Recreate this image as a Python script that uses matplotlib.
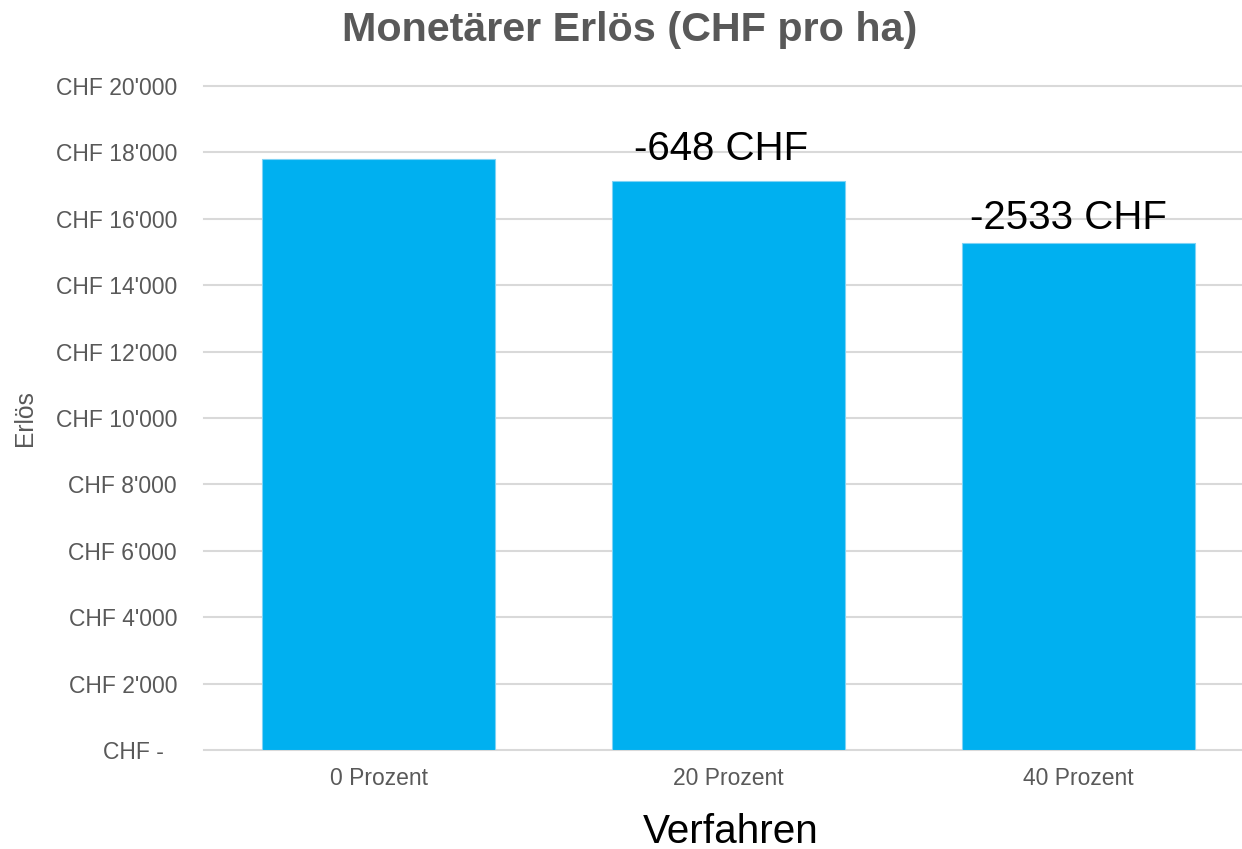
import matplotlib
matplotlib.use("Agg")
import matplotlib.pyplot as plt
from matplotlib.ticker import FixedLocator

plt.rcParams['font.family'] = ['Liberation Sans', 'DejaVu Sans']

categories = ["0 Prozent", "20 Prozent", "40 Prozent"]
values = [17800, 17152, 15267]
diff_labels = [None, "-648 CHF", "-2533 CHF"]
y_ticks = [0, 2000, 4000, 6000, 8000, 10000, 12000, 14000, 16000, 18000, 20000]
y_tick_labels = ["CHF -  ", "CHF 2'000", "CHF 4'000", "CHF 6'000", "CHF 8'000",
                 "CHF 10'000", "CHF 12'000", "CHF 14'000", "CHF 16'000",
                 "CHF 18'000", "CHF 20'000"]
label_offsets_px = [(0, 0), (-7, 21), (-10, 14)]

W, H = 1242, 849
fig = plt.figure(figsize=(W / 100, H / 100), dpi=100)
ax_left, ax_right = 203.5, 1253.5
ax_top, ax_bot = 86, 750
ax = fig.add_axes([ax_left / W, 1 - ax_bot / H, (ax_right - ax_left) / W, (ax_bot - ax_top) / H])

x = list(range(len(categories)))
bars = ax.bar(x, values, width=0.666, color="#00B0F0", edgecolor="#7fd3f5", linewidth=0.8, zorder=3)

ax.set_xlim(-0.5, 2.5)
ax.set_ylim(0, 20000)
ax.yaxis.set_major_locator(FixedLocator(y_ticks))
ax.set_yticklabels(y_tick_labels)
ax.set_xticks(x)
ax.set_xticklabels(categories)

for s in ax.spines.values():
    s.set_visible(False)
ax.grid(axis='y', color="#d9d9d9", linewidth=1.5, zorder=0)
for gl in ax.get_ygridlines():
    gl.set_clip_on(False)
ax.tick_params(axis='both', length=0, colors="#595959", labelsize=16.5)
ax.tick_params(axis='y', pad=19)
ax.tick_params(axis='x', pad=12)

for xi, v, lab, off in zip(x, values, diff_labels, label_offsets_px):
    if lab:
        ax.annotate(lab, xy=(xi, v), xytext=off, textcoords='offset pixels',
                    ha='center', va='baseline', fontsize=29, color="black", zorder=4)

fig.text(630 / W, 1 - 30 / H, "Monetärer Erlös (CHF pro ha)", ha='center', va='center',
         fontsize=29.7, fontweight='bold', color="#595959")
fig.text(25 / W, 1 - 418 / H, "Erlös", rotation=90, ha='center', va='center',
         fontsize=17.7, color="#595959")
fig.text(731 / W, 1 - 832 / H, "Verfahren", ha='center', va='center',
         fontsize=29.2, color="black")

fig.savefig("out.png", dpi=100)
